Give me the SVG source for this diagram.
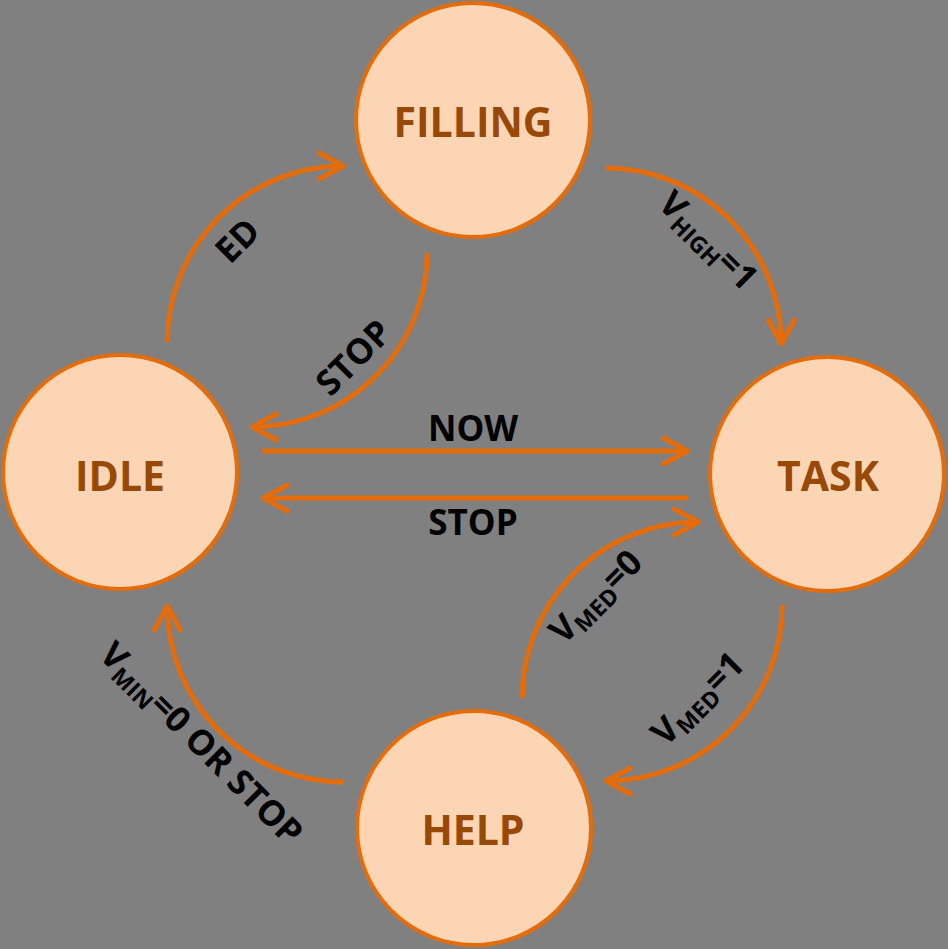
<svg xmlns="http://www.w3.org/2000/svg" width="948" height="949" viewBox="0 0 948 949">
<style>
.node circle{fill:#FCD5B5;stroke:#E46C0A;stroke-width:4}
.node text{font-family:"Open Sans","Liberation Sans",sans-serif;font-weight:700;font-size:41px;fill:#984807;text-anchor:middle}
.conn path{fill:none;stroke:#E46C0A;stroke-width:5}
.lbl{font-family:"Open Sans","Liberation Sans",sans-serif;font-weight:700;font-size:35px;fill:#000;text-anchor:middle}
.sub{font-size:23px}
</style>
<defs>
<marker id="ah" markerUnits="userSpaceOnUse" markerWidth="60" markerHeight="60" viewBox="-30 -30 60 60" refX="0" refY="0" orient="auto" overflow="visible">
<path d="M-24,-13 L0,0 L-24,13" fill="none" stroke="#E46C0A" stroke-width="5" stroke-linecap="round" stroke-linejoin="round"/>
</marker>
</defs>
<rect width="948" height="949" fill="#808080"/>
<g class="conn">
<path d="M167,342 A176,176 0 0 1 343,166" marker-end="url(#ah)"/>
<path d="M427,253 A175,175 0 0 1 252,427" marker-end="url(#ah)"/>
<path d="M605,168 A176,176 0 0 1 781,344" marker-end="url(#ah)"/>
<path d="M782,605 A176,176 0 0 1 606,781" marker-end="url(#ah)"/>
<path d="M522,698 A176,176 0 0 1 698,522" marker-end="url(#ah)"/>
<path d="M343,782 A176,176 0 0 1 167,606" marker-end="url(#ah)"/>
<path d="M262,451 L687,451" marker-end="url(#ah)"/>
<path d="M687,498 L263,498" marker-end="url(#ah)"/>
</g>
<g id="filling" class="node"><circle cx="473" cy="120" r="117"/><text x="473" y="137">FILLING</text></g>
<g id="idle" class="node"><circle cx="120" cy="472" r="117"/><text x="120" y="491">IDLE</text></g>
<g id="task" class="node"><circle cx="827" cy="474" r="117"/><text x="828" y="491">TASK</text></g>
<g id="help" class="node"><circle cx="474" cy="828" r="117"/><text x="473" y="845">HELP</text></g>
<g id="labels">
<text class="lbl" x="473" y="441">NOW</text>
<text class="lbl" x="473" y="535">STOP</text>
<text class="lbl" transform="translate(237,240) rotate(-45)" x="0" y="13">ED</text>
<text class="lbl" transform="translate(353,357) rotate(-45)" x="0" y="13">STOP</text>
<text class="lbl" transform="translate(707,242) rotate(45)" x="0" y="10">V<tspan class="sub" dy="6">HIGH</tspan><tspan dy="-6">=1</tspan></text>
<text class="lbl" transform="translate(597,598) rotate(-45)" x="0" y="10">V<tspan class="sub" dy="6">MED</tspan><tspan dy="-6">=0</tspan></text>
<text class="lbl" transform="translate(699,700) rotate(-45)" x="0" y="10">V<tspan class="sub" dy="6">MED</tspan><tspan dy="-6">=1</tspan></text>
<text class="lbl" transform="translate(200,745) rotate(45)" x="0" y="10">V<tspan class="sub" dy="6">MIN</tspan><tspan dy="-6">=0 OR STOP</tspan></text>
</g>
</svg>
